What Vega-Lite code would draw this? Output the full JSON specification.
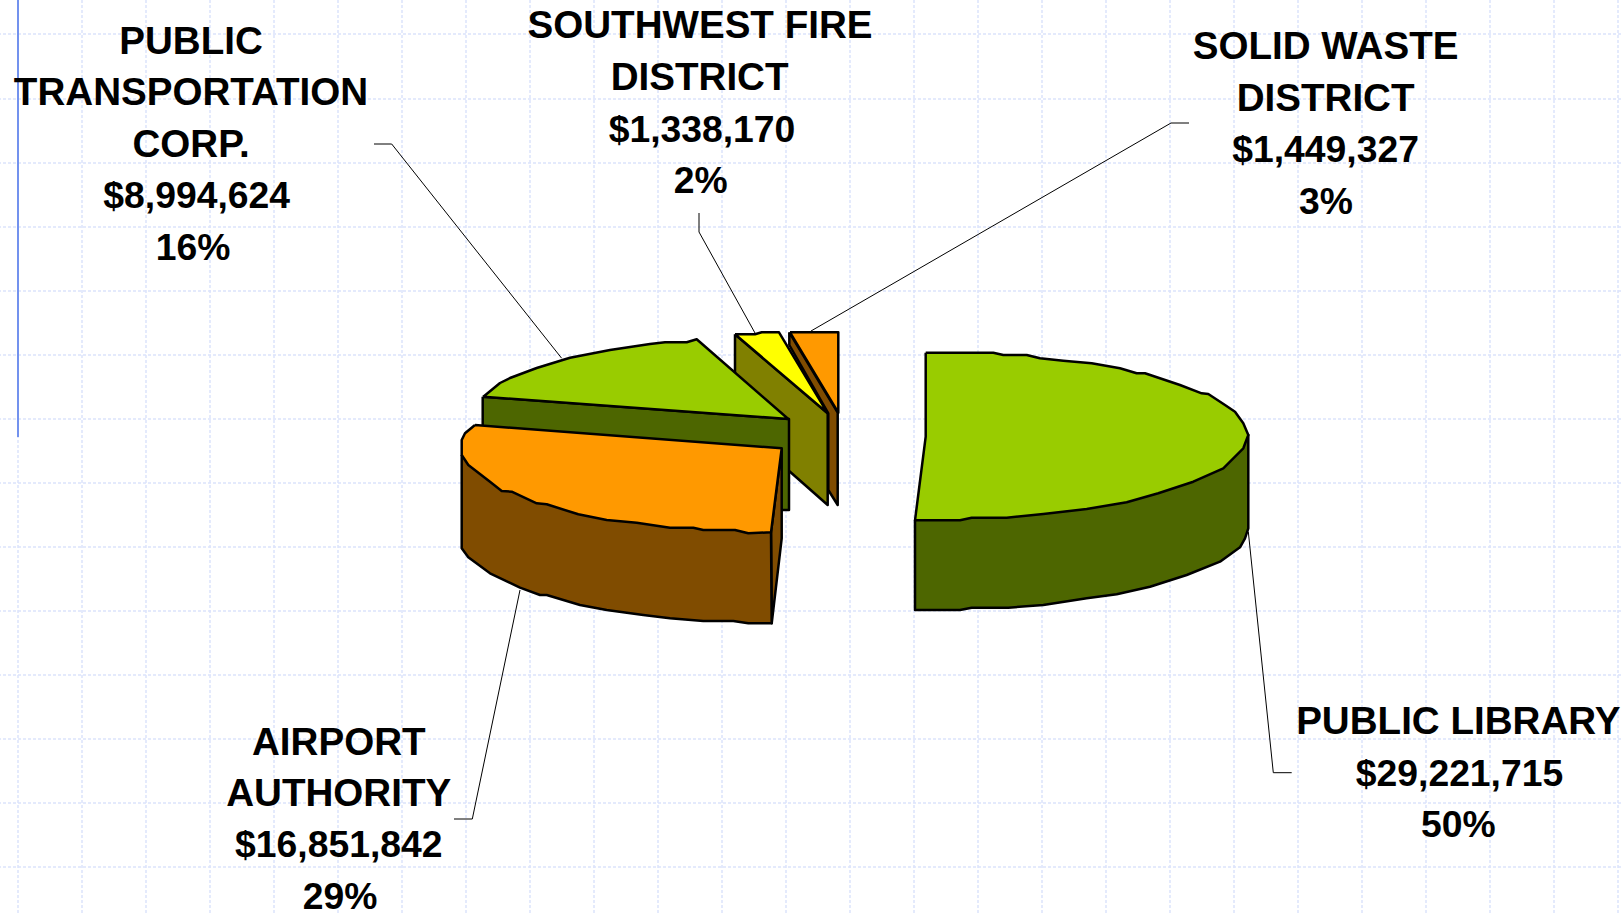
{"$schema":"https://vega.github.io/schema/vega-lite/v6.json","width":1621,"height":914,"padding":0,"autosize":"none","background":"white","view":{"stroke":null},
"datasets":{
"gridx":[{"x":18},{"x":82},{"x":146},{"x":210},{"x":274},{"x":338},{"x":402},{"x":466},{"x":530},{"x":594},{"x":658},{"x":722},{"x":786},{"x":850},{"x":914},{"x":978},{"x":1042},{"x":1106},{"x":1170},{"x":1234},{"x":1298},{"x":1362},{"x":1426},{"x":1490},{"x":1554},{"x":1618}],
"gridy":[{"y":34},{"y":99},{"y":163},{"y":227},{"y":291},{"y":355},{"y":419},{"y":483},{"y":547},{"y":611},{"y":675},{"y":739},{"y":803},{"y":867}],
"shapes":[
{"part":"waste side","seq":0,"x":789.3,"y":332.3},{"part":"waste side","seq":1,"x":837.7,"y":412.7},{"part":"waste side","seq":2,"x":837.7,"y":505},{"part":"waste side","seq":3,"x":828.3,"y":490},{"part":"waste side","seq":4,"x":828.3,"y":413.3},{"part":"waste side","seq":5,"x":789.3,"y":345},{"part":"waste side","seq":6,"x":789.3,"y":332.3},
{"part":"waste top","seq":0,"x":790,"y":332.3},{"part":"waste top","seq":1,"x":838.3,"y":332.3},{"part":"waste top","seq":2,"x":838.3,"y":412.7},{"part":"waste top","seq":3,"x":790,"y":332.3},
{"part":"fire side","seq":0,"x":735,"y":334.3},{"part":"fire side","seq":1,"x":827.7,"y":413.3},{"part":"fire side","seq":2,"x":827.7,"y":505},{"part":"fire side","seq":3,"x":790,"y":471.7},{"part":"fire side","seq":4,"x":735,"y":420},{"part":"fire side","seq":5,"x":735,"y":334.3},
{"part":"fire top","seq":0,"x":735,"y":334.3},{"part":"fire top","seq":1,"x":755,"y":334.3},{"part":"fire top","seq":2,"x":761.7,"y":332.3},{"part":"fire top","seq":3,"x":779,"y":332.3},{"part":"fire top","seq":4,"x":827.7,"y":413.3},{"part":"fire top","seq":5,"x":735,"y":334.3},
{"part":"transport side","seq":0,"x":482.7,"y":396.7},{"part":"transport side","seq":1,"x":789,"y":419},{"part":"transport side","seq":2,"x":789,"y":510},{"part":"transport side","seq":3,"x":760,"y":510},{"part":"transport side","seq":4,"x":482.7,"y":440},{"part":"transport side","seq":5,"x":482.7,"y":396.7},
{"part":"transport top","seq":0,"x":483.3,"y":396.7},{"part":"transport top","seq":1,"x":500,"y":383},{"part":"transport top","seq":2,"x":510,"y":378},{"part":"transport top","seq":3,"x":536.7,"y":368},{"part":"transport top","seq":4,"x":570,"y":357.7},{"part":"transport top","seq":5,"x":610,"y":350},{"part":"transport top","seq":6,"x":650,"y":344},{"part":"transport top","seq":7,"x":665,"y":342.3},{"part":"transport top","seq":8,"x":686.7,"y":342.3},{"part":"transport top","seq":9,"x":696.7,"y":339.3},{"part":"transport top","seq":10,"x":788.3,"y":419},{"part":"transport top","seq":11,"x":483.3,"y":396.7},
{"part":"airport cut","seq":0,"x":781.7,"y":448.3},{"part":"airport cut","seq":1,"x":781.7,"y":538.3},{"part":"airport cut","seq":2,"x":771.7,"y":623.3},{"part":"airport cut","seq":3,"x":771,"y":532.3},{"part":"airport cut","seq":4,"x":781.7,"y":448.3},
{"part":"airport side","seq":0,"x":461.7,"y":455},{"part":"airport side","seq":1,"x":461.7,"y":548.3},{"part":"airport side","seq":2,"x":468.3,"y":557.3},{"part":"airport side","seq":3,"x":490,"y":573.3},{"part":"airport side","seq":4,"x":520,"y":587.7},{"part":"airport side","seq":5,"x":540,"y":595},{"part":"airport side","seq":6,"x":546.7,"y":595},{"part":"airport side","seq":7,"x":580,"y":605},{"part":"airport side","seq":8,"x":606.7,"y":610},{"part":"airport side","seq":9,"x":643.3,"y":615},{"part":"airport side","seq":10,"x":670,"y":618.3},{"part":"airport side","seq":11,"x":703.3,"y":621},{"part":"airport side","seq":12,"x":733.3,"y":621},{"part":"airport side","seq":13,"x":748.3,"y":623.3},{"part":"airport side","seq":14,"x":771.7,"y":623.3},{"part":"airport side","seq":15,"x":771,"y":532.3},{"part":"airport side","seq":16,"x":461.7,"y":455},
{"part":"airport top","seq":0,"x":475,"y":425},{"part":"airport top","seq":1,"x":781.7,"y":448.3},{"part":"airport top","seq":2,"x":771,"y":532.3},{"part":"airport top","seq":3,"x":748.3,"y":533.3},{"part":"airport top","seq":4,"x":735,"y":530},{"part":"airport top","seq":5,"x":703.3,"y":530},{"part":"airport top","seq":6,"x":693.3,"y":527.7},{"part":"airport top","seq":7,"x":670,"y":527.7},{"part":"airport top","seq":8,"x":636.7,"y":522.7},{"part":"airport top","seq":9,"x":606.7,"y":520},{"part":"airport top","seq":10,"x":578.3,"y":514.3},{"part":"airport top","seq":11,"x":546.7,"y":504.3},{"part":"airport top","seq":12,"x":536.7,"y":503.3},{"part":"airport top","seq":13,"x":511.7,"y":491.7},{"part":"airport top","seq":14,"x":501.7,"y":491},{"part":"airport top","seq":15,"x":490,"y":481.7},{"part":"airport top","seq":16,"x":468.3,"y":465},{"part":"airport top","seq":17,"x":461.7,"y":455},{"part":"airport top","seq":18,"x":461.7,"y":440},{"part":"airport top","seq":19,"x":465,"y":433.3},{"part":"airport top","seq":20,"x":475,"y":425},
{"part":"library side","seq":0,"x":915,"y":520.3},{"part":"library side","seq":1,"x":915,"y":610},{"part":"library side","seq":2,"x":960,"y":610},{"part":"library side","seq":3,"x":971.7,"y":607.7},{"part":"library side","seq":4,"x":1008.3,"y":607.7},{"part":"library side","seq":5,"x":1043.3,"y":605},{"part":"library side","seq":6,"x":1086.7,"y":598.3},{"part":"library side","seq":7,"x":1116.7,"y":594.3},{"part":"library side","seq":8,"x":1150,"y":586.7},{"part":"library side","seq":9,"x":1186.7,"y":575},{"part":"library side","seq":10,"x":1220,"y":561.7},{"part":"library side","seq":11,"x":1240,"y":547.3},{"part":"library side","seq":12,"x":1245,"y":538.3},{"part":"library side","seq":13,"x":1248.3,"y":528.3},{"part":"library side","seq":14,"x":1248.3,"y":435},{"part":"library side","seq":15,"x":915,"y":520.3},
{"part":"library top","seq":0,"x":925.7,"y":352.7},{"part":"library top","seq":1,"x":993.3,"y":352.7},{"part":"library top","seq":2,"x":1003.3,"y":355},{"part":"library top","seq":3,"x":1026.7,"y":355},{"part":"library top","seq":4,"x":1040,"y":358.3},{"part":"library top","seq":5,"x":1063.3,"y":360.7},{"part":"library top","seq":6,"x":1091.7,"y":363.3},{"part":"library top","seq":7,"x":1120,"y":368.3},{"part":"library top","seq":8,"x":1136.7,"y":373.3},{"part":"library top","seq":9,"x":1145,"y":373.3},{"part":"library top","seq":10,"x":1180,"y":385},{"part":"library top","seq":11,"x":1201.7,"y":393.3},{"part":"library top","seq":12,"x":1208.3,"y":394},{"part":"library top","seq":13,"x":1225,"y":405},{"part":"library top","seq":14,"x":1235,"y":411.7},{"part":"library top","seq":15,"x":1243.3,"y":423.3},{"part":"library top","seq":16,"x":1248.3,"y":435},{"part":"library top","seq":17,"x":1243.3,"y":448.3},{"part":"library top","seq":18,"x":1223.3,"y":468.3},{"part":"library top","seq":19,"x":1193.3,"y":481.7},{"part":"library top","seq":20,"x":1158.3,"y":493.3},{"part":"library top","seq":21,"x":1126.7,"y":502.3},{"part":"library top","seq":22,"x":1086.7,"y":509},{"part":"library top","seq":23,"x":1043.3,"y":514},{"part":"library top","seq":24,"x":1006.7,"y":517.7},{"part":"library top","seq":25,"x":971.7,"y":517.7},{"part":"library top","seq":26,"x":960,"y":520.3},{"part":"library top","seq":27,"x":915,"y":520.3},{"part":"library top","seq":28,"x":925.7,"y":436.7},{"part":"library top","seq":29,"x":925.7,"y":352.7}
],
"leaders":[
{"slice":"transport","seq":0,"x":374,"y":144},{"slice":"transport","seq":1,"x":391.7,"y":144},{"slice":"transport","seq":2,"x":561.7,"y":358.3},
{"slice":"fire","seq":0,"x":699,"y":213},{"slice":"fire","seq":1,"x":699,"y":232},{"slice":"fire","seq":2,"x":755,"y":333},
{"slice":"waste","seq":0,"x":1189,"y":123},{"slice":"waste","seq":1,"x":1171,"y":123},{"slice":"waste","seq":2,"x":811,"y":331},
{"slice":"airport","seq":0,"x":454,"y":819},{"slice":"airport","seq":1,"x":472.3,"y":819},{"slice":"airport","seq":2,"x":520,"y":590},
{"slice":"library","seq":0,"x":1291.7,"y":772.7},{"slice":"library","seq":1,"x":1273.3,"y":772.7},{"slice":"library","seq":2,"x":1248.3,"y":531.7}
],
"labels":[
{"kind":"name","t":"PUBLIC","x":191,"y":54},{"kind":"name","t":"TRANSPORTATION","x":191,"y":104.5},{"kind":"name","t":"CORP.","x":191,"y":156.5},{"kind":"value","t":"$8,994,624","x":196.7,"y":208},{"kind":"value","t":"16%","x":193,"y":260},
{"kind":"name","t":"SOUTHWEST FIRE","x":700,"y":38.3},{"kind":"name","t":"DISTRICT","x":699.6,"y":90.3},{"kind":"value","t":"$1,338,170","x":702,"y":142},{"kind":"value","t":"2%","x":700.7,"y":192.7},
{"kind":"name","t":"SOLID WASTE","x":1325.6,"y":59},{"kind":"name","t":"DISTRICT","x":1325.6,"y":111},{"kind":"value","t":"$1,449,327","x":1325.6,"y":162},{"kind":"value","t":"3%","x":1326,"y":214},
{"kind":"name","t":"AIRPORT","x":338.8,"y":755},{"kind":"name","t":"AUTHORITY","x":338.7,"y":805.7},{"kind":"value","t":"$16,851,842","x":338.8,"y":857.3},{"kind":"value","t":"29%","x":340,"y":909},
{"kind":"name","t":"PUBLIC LIBRARY","x":1458.3,"y":734},{"kind":"value","t":"$29,221,715","x":1459.5,"y":786},{"kind":"value","t":"50%","x":1458.3,"y":837}
]
},
"layer":[
{"data":{"name":"gridx"},"mark":{"type":"rule","stroke":"#dbe3fb","strokeWidth":1.5,"strokeDash":[3,2]},"encoding":{"x":{"field":"x","type":"quantitative","scale":{"domain":[0,1621],"nice":false},"axis":null}}},
{"data":{"name":"gridy"},"mark":{"type":"rule","stroke":"#dbe3fb","strokeWidth":1.5,"strokeDash":[3,2]},"encoding":{"y":{"field":"y","type":"quantitative","scale":{"domain":[914,0],"nice":false},"axis":null}}},
{"data":{"values":[{"x":18,"y":0,"y2":437}]},"mark":{"type":"rule","stroke":"#7392ee","strokeWidth":2},"encoding":{"x":{"field":"x","type":"quantitative","scale":{"domain":[0,1621],"nice":false},"axis":null},"y":{"field":"y","type":"quantitative","scale":{"domain":[914,0],"nice":false},"axis":null},"y2":{"field":"y2"}}},
{"data":{"name":"leaders"},"mark":{"type":"line","stroke":"#000000","strokeWidth":1},"encoding":{"x":{"field":"x","type":"quantitative","scale":{"domain":[0,1621],"nice":false},"axis":null},"y":{"field":"y","type":"quantitative","scale":{"domain":[914,0],"nice":false},"axis":null},"detail":{"field":"slice"},"order":{"field":"seq","type":"quantitative"}}},
{"data":{"name":"shapes"},"mark":{"type":"line","stroke":"#000000","strokeWidth":2.5,"strokeJoin":"round","fillOpacity":1},"encoding":{"x":{"field":"x","type":"quantitative","scale":{"domain":[0,1621],"nice":false},"axis":null},"y":{"field":"y","type":"quantitative","scale":{"domain":[914,0],"nice":false},"axis":null},"fill":{"field":"part","type":"nominal","legend":null,"sort":null,"scale":{"domain":["waste side","waste top","fire side","fire top","transport side","transport top","airport cut","airport side","airport top","library side","library top"],"range":["#804c00","#ff9900","#808000","#ffff00","#4d6600","#99cc00","#804c00","#804c00","#ff9900","#4d6600","#99cc00"]}},"order":{"field":"seq","type":"quantitative"}}},
{"data":{"name":"labels"},"transform":[{"filter":"datum.kind === 'name'"}],"mark":{"type":"text","font":"Liberation Sans","fontWeight":"bold","fontSize":38.6,"align":"center","baseline":"alphabetic","fill":"#000000"},"encoding":{"x":{"field":"x","type":"quantitative","scale":{"domain":[0,1621],"nice":false},"axis":null},"y":{"field":"y","type":"quantitative","scale":{"domain":[914,0],"nice":false},"axis":null},"text":{"field":"t"}}},
{"data":{"name":"labels"},"transform":[{"filter":"datum.kind === 'value'"}],"mark":{"type":"text","font":"Liberation Sans","fontWeight":"bold","fontSize":37.3,"align":"center","baseline":"alphabetic","fill":"#000000"},"encoding":{"x":{"field":"x","type":"quantitative","scale":{"domain":[0,1621],"nice":false},"axis":null},"y":{"field":"y","type":"quantitative","scale":{"domain":[914,0],"nice":false},"axis":null},"text":{"field":"t"}}}
]}
